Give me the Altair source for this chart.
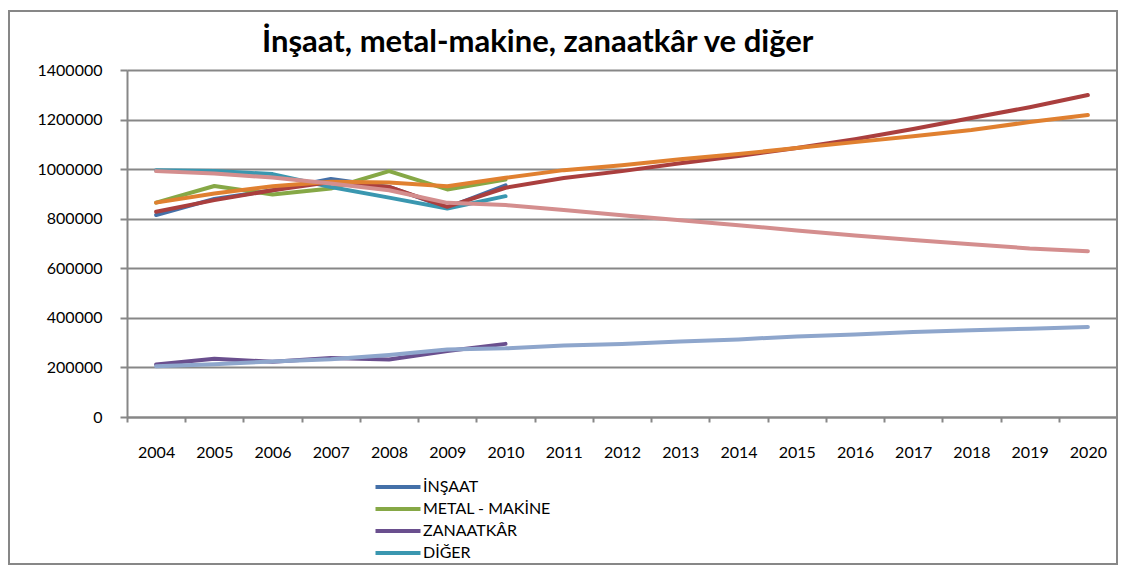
import altair as alt
import pandas as pd

years = [str(y) for y in range(2004, 2021)]
actual_years = years[:7]

series_names = ["İNŞAAT", "METAL - MAKİNE", "ZANAATKÂR", "DİĞER"]
insaat = [815000, 880000, 915000, 960000, 928000, 845000, 935000]
metal = [865000, 932000, 898000, 922000, 992000, 918000, 958000]
zanaatkar = [212000, 235000, 223000, 238000, 232000, 266000, 295000]
diger = [996000, 993000, 980000, 928000, 885000, 841000, 891000]

trend_names = ["İnşaat eğilim", "Metal eğilim", "Zanaatkâr eğilim", "Diğer eğilim"]
insaat_trend = [828000, 875000, 915000, 948000, 928000, 848000, 925000, 964000, 992000,
                1024000, 1053000, 1085000, 1121000, 1162000, 1206000, 1250000, 1299000]
metal_trend = [865000, 902000, 931000, 949000, 946000, 931000, 965000, 996000, 1016000,
               1040000, 1061000, 1085000, 1109000, 1133000, 1158000, 1190000, 1218000]
zanaat_trend = [205000, 213000, 224000, 233000, 250000, 272000, 277000, 288000, 295000,
                305000, 313000, 325000, 333000, 343000, 350000, 356000, 363000]
diger_trend = [992000, 982000, 966000, 942000, 915000, 864000, 855000, 835000, 814000,
               794000, 774000, 752000, 732000, 714000, 697000, 680000, 669000]

y_ticks = [0, 200000, 400000, 600000, 800000, 1000000, 1200000, 1400000]
title_text = "İnşaat, metal-makine, zanaatkâr ve diğer"

series_colors = ["#4470A8", "#86A846", "#6A4F8E", "#3A97B0"]
trend_colors = ["#AA3F3E", "#E08030", "#8EA6CC", "#D48E8E"]

actual_rows = []
for k, (name, vals) in enumerate(zip(series_names, [insaat, metal, zanaatkar, diger])):
    for yr, v in zip(actual_years, vals):
        actual_rows.append({"seri": name, "yil": yr, "deger": v, "ord": k})
actual_df = pd.DataFrame(actual_rows)

trend_rows = []
for name, vals in zip(trend_names, [insaat_trend, metal_trend, zanaat_trend, diger_trend]):
    for yr, v in zip(years, vals):
        trend_rows.append({"egilim": name, "yil": yr, "deger": v})
trend_df = pd.DataFrame(trend_rows)

FONT = "Lato"
GRAY = "#878787"

x_enc = alt.X(
    "yil:O",
    bandPosition=0.5,
    scale=alt.Scale(type="band", domain=years, paddingInner=0, paddingOuter=0),
    axis=alt.Axis(
        title=None, tickBand="extent", labelAngle=0, grid=False,
        domainColor=GRAY, domainWidth=2, tickColor=GRAY, tickWidth=2, tickSize=5,
        labelFont=FONT, labelFontSize=16, labelColor="black", labelPadding=22,
    ),
)
y_enc = alt.Y(
    "deger:Q",
    scale=alt.Scale(domain=[0, 1400000], nice=False, zero=True),
    axis=alt.Axis(
        title=None, values=y_ticks, format="d", grid=True, gridColor=GRAY, gridWidth=2,
        domainColor=GRAY, domainWidth=2, tickColor=GRAY, tickWidth=2, tickSize=7,
        labelFont=FONT, labelFontSize=16, labelColor="black", labelPadding=18,
    ),
)

actual = alt.Chart(actual_df).mark_line(strokeWidth=4, strokeCap="round", strokeJoin="round").encode(
    x=x_enc,
    y=y_enc,
    color=alt.Color(
        "seri:N",
        scale=alt.Scale(domain=series_names, range=series_colors),
        legend=alt.Legend(
            title=None, orient="none", legendX=263, legendY=409, padding=0,
            symbolType="M-4.5,0H4.5", symbolSize=100, symbolStrokeWidth=4,
            labelFont=FONT, labelFontSize=16, labelColor="black", labelOffset=17,
            rowPadding=6, direction="vertical",
        ),
    ),
    order=alt.Order("ord:Q"),
)

trend = alt.Chart(trend_df).mark_line(strokeWidth=4, strokeCap="round", strokeJoin="round").encode(
    x=x_enc,
    y=y_enc,
    color=alt.Color(
        "egilim:N",
        scale=alt.Scale(domain=trend_names, range=trend_colors),
        legend=None,
    ),
)

one = pd.DataFrame({"baslik": [title_text]})

border = alt.Chart(one).mark_rect(
    filled=False, stroke=GRAY, strokeWidth=2
).encode(
    x=alt.value(-118), x2=alt.value(990), y=alt.value(-59), y2=alt.value(494)
)

title = alt.Chart(one).mark_text(
    font=FONT, fontSize=31, fontWeight="bold", color="black",
    align="left", baseline="alphabetic",
).encode(
    x=alt.value(135), y=alt.value(-18), text="baslik:N"
)

chart = alt.layer(border, title, actual, trend).resolve_scale(color="independent").properties(
    width=990,
    height=347,
    autosize=alt.AutoSizeParams(type="none"),
    padding={"left": 119, "top": 62, "right": 1, "bottom": 149},
).configure_view(stroke=None).configure(background="white")

chart.save("out.html", embed_options={"renderer": "svg", "actions": False})
